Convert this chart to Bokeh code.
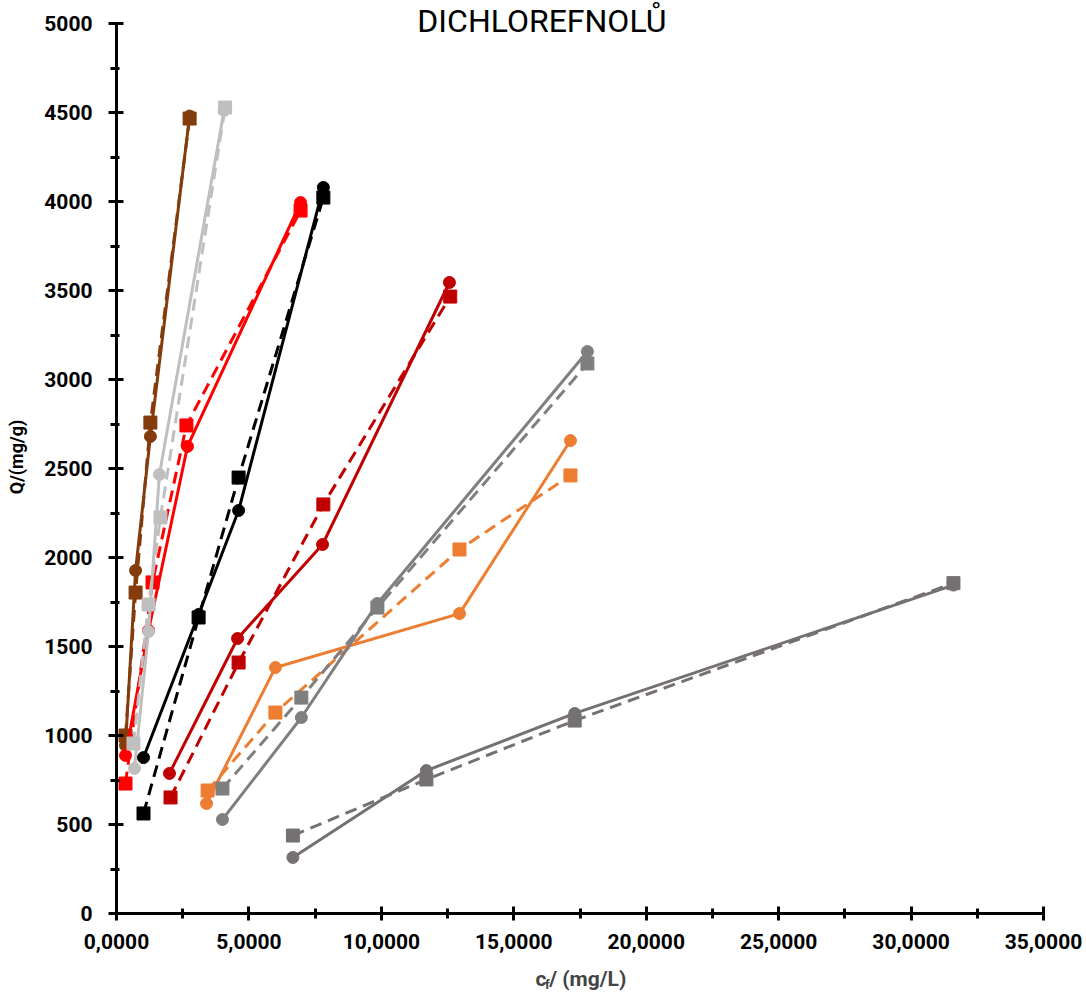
from bokeh.plotting import figure
from bokeh.layouts import column
from bokeh.models import Range1d, FixedTicker, CustomJSTickFormatter, Label
from bokeh.embed import file_html
from bokeh.resources import INLINE

# ---- data (cf in mg/L, Q in mg/g) ----
brown_cx = [0.34, 0.72, 1.28, 2.76]
brown_cy = [944, 1927, 2680, 4480]
brown_sx = [0.34, 0.72, 1.28, 2.76]
brown_sy = [1000, 1803, 2758, 4466]

red_cx = [0.34, 1.21, 2.68, 6.95]
red_cy = [888, 1590, 2624, 3994]
red_sx = [0.34, 1.36, 2.64, 6.95]
red_sy = [730, 1860, 2742, 3949]

lgray_cx = [0.68, 1.21, 1.62, 4.06]
lgray_cy = [815, 1584, 2466, 4511]
lgray_sx = [0.64, 1.21, 1.66, 4.10]
lgray_sy = [955, 1736, 2225, 4528]

black_cx = [1.02, 3.10, 4.61, 7.81]
black_cy = [876, 1680, 2264, 4079]
black_sx = [1.02, 3.10, 4.61, 7.81]
black_sy = [562, 1663, 2449, 4022]

dred_cx = [2.00, 4.57, 7.78, 12.57]
dred_cy = [787, 1545, 2073, 3545]
dred_sx = [2.04, 4.61, 7.81, 12.60]
dred_sy = [652, 1410, 2298, 3466]

orange_cx = [3.40, 6.00, 12.95, 17.14]
orange_cy = [618, 1382, 1685, 2657]
orange_sx = [3.44, 6.00, 12.95, 17.14]
orange_sy = [691, 1129, 2045, 2461]

gray_cx = [4.00, 6.98, 9.85, 17.78]
gray_cy = [528, 1101, 1742, 3157]
gray_sx = [4.00, 6.98, 9.85, 17.78]
gray_sy = [702, 1213, 1719, 3090]

dgray_cx = [6.66, 11.70, 17.30, 31.60]
dgray_cy = [315, 803, 1124, 1845]
dgray_sx = [6.66, 11.70, 17.30, 31.60]
dgray_sy = [438, 753, 1084, 1856]

x_ticks = [0, 5, 10, 15, 20, 25, 30, 35]
y_ticks = [0, 500, 1000, 1500, 2000, 2500, 3000, 3500, 4000, 4500, 5000]

title_text = "DICHLOREFNOLŮ"
y_label = "Q/(mg/g)"

series = [
    ("#843C0C", brown_cx, brown_cy, brown_sx, brown_sy),
    ("#FF0000", red_cx, red_cy, red_sx, red_sy),
    ("#BFBFBF", lgray_cx, lgray_cy, lgray_sx, lgray_sy),
    ("#000000", black_cx, black_cy, black_sx, black_sy),
    ("#C00000", dred_cx, dred_cy, dred_sx, dred_sy),
    ("#ED7D31", orange_cx, orange_cy, orange_sx, orange_sy),
    ("#7F7F7F", gray_cx, gray_cy, gray_sx, gray_sy),
    ("#767171", dgray_cx, dgray_cy, dgray_sx, dgray_sy),
]

FONT = "Roboto"

# frame: left 116, right 1043, top 0 (room for title), bottom 913; 5000 sits at y=23
frame_h = 913
y_top = 5000 * frame_h / (frame_h - 23)

p = figure(width=1086, height=963, output_backend="svg", toolbar_location=None,
           x_range=Range1d(0, 35), y_range=Range1d(0, y_top),
           min_border_left=116, min_border_right=43, min_border_top=0, min_border_bottom=50)
p.outline_line_color = None
p.xgrid.visible = False
p.ygrid.visible = False
p.background_fill_color = "white"
p.border_fill_color = "white"

for color, cx, cy, sx, sy in series:
    p.line(sx, sy, line_color=color, line_width=3, line_dash="12 7")
    p.line(cx, cy, line_color=color, line_width=3)
    p.scatter(cx, cy, marker="circle", size=12, fill_color=color, line_color=color)
    p.scatter(sx, sy, marker="square", size=13, fill_color=color, line_color=color)

minor_x = [t + 2.5 for t in x_ticks[:-1]]
minor_y = [t + 250 for t in y_ticks[:-1]]
p.xaxis.ticker = FixedTicker(ticks=x_ticks, minor_ticks=minor_x)
p.yaxis.ticker = FixedTicker(ticks=y_ticks, minor_ticks=minor_y)
p.xaxis.formatter = CustomJSTickFormatter(code="return tick.toFixed(4).replace('.', ',');")
p.yaxis.bounds = (0, 5000)
p.xaxis.bounds = (0, 35)

for ax in (p.xaxis[0], p.yaxis[0]):
    ax.axis_line_width = 3
    ax.axis_line_color = "black"
    ax.major_tick_line_width = 3
    ax.minor_tick_line_width = 3
    ax.major_tick_line_color = "black"
    ax.minor_tick_line_color = "black"
    ax.major_label_text_font = FONT
    ax.major_label_text_font_size = "21px"
    ax.major_label_text_font_style = "bold"
    ax.major_label_text_color = "black"

p.yaxis.major_tick_in = 7
p.yaxis.major_tick_out = 8
p.yaxis.minor_tick_in = 3
p.yaxis.minor_tick_out = 6
p.yaxis.major_label_standoff = 16
p.xaxis.major_tick_in = 7
p.xaxis.major_tick_out = 7
p.xaxis.minor_tick_in = 5
p.xaxis.minor_tick_out = 5
p.xaxis.major_label_standoff = 13

p.yaxis.axis_label = y_label
p.yaxis.axis_label_text_font = FONT
p.yaxis.axis_label_text_font_size = "18px"
p.yaxis.axis_label_text_font_style = "bold"
p.yaxis.axis_label_text_color = "black"
p.yaxis.axis_label_standoff = 14

# title inside the (extended) frame
p.add_layout(Label(x=(541.5 - 116) / 26.49, y=y_top * (frame_h - 20.5) / frame_h, text=title_text,
                   text_font=FONT, text_font_size="32px", text_font_style="normal",
                   text_baseline="middle", text_align="center", text_color="black"))

# strip below for the x-axis label with subscript f
p2 = figure(width=1086, height=30, output_backend="svg", toolbar_location=None,
            x_range=Range1d(0, 1086), y_range=Range1d(0, 30),
            x_axis_location=None, y_axis_location=None,
            min_border_left=0, min_border_right=0, min_border_top=0, min_border_bottom=0)
p2.outline_line_color = None
p2.xgrid.visible = False
p2.ygrid.visible = False
p2.add_layout(Label(x=491, y=15, text="c", text_font=FONT, text_font_size="21px",
                    text_font_style="bold", text_baseline="alphabetic", text_align="left"))
p2.add_layout(Label(x=502, y=9.5, text="f", text_font=FONT, text_font_size="13px",
                    text_font_style="bold", text_baseline="alphabetic", text_align="left"))
p2.add_layout(Label(x=507, y=15, text="/ (mg/L)", text_font=FONT, text_font_size="21px",
                    text_font_style="bold", text_baseline="alphabetic", text_align="left"))

layout = column(p, p2, spacing=0)
open("out.html", "w").write(file_html(layout, INLINE))
